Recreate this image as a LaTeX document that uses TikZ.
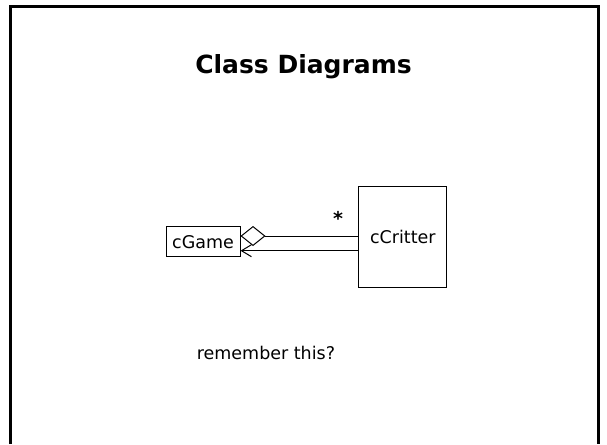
\documentclass[tikz,border=0pt]{standalone}
\usepackage{fontspec}
\setmainfont{DejaVu Sans}
\usetikzlibrary{arrows.meta,calc}
\tikzset{
  frame/.style={line width=3pt, line cap=butt},
  label text/.style={font=\fontsize{17.5}{21}\selectfont},
  classbox/.style={draw, line width=1pt, inner sep=0pt, label text},
  assoc/.style={line width=1pt},
  aggr/.style={assoc, -{Diamond[open,length=25pt,width=20pt,line width=1pt]}},
  navig/.style={assoc, -{Straight Barb[length=10pt,width=12pt,line width=1pt]}},
}
\begin{document}
\begin{tikzpicture}[x=1pt,y=-1pt]
  \useasboundingbox (0,0) rectangle (607,444);
  % slide frame, open at the bottom
  \draw[frame] (10.5,444) -- (10.5,6.5) -- (598.5,6.5) -- (598.5,444);
  % title
  \node[font=\fontsize{25}{30}\selectfont\bfseries, anchor=base] (title) at (303.5,73.3) {Class Diagrams};
  % classes
  \node[classbox, minimum width=74pt, minimum height=30pt] (game) at (203,241.7) {cGame};
  \node[classbox, minimum width=87.7pt, minimum height=101pt] (critter) at (402.8,237.2) {cCritter};
  % associations
  \coordinate (aggEnd) at ([yshift=5.7pt]game.east);
  \coordinate (navEnd) at ([yshift=-9pt]game.east);
  \draw[aggr] (critter.west |- aggEnd) -- (aggEnd);
  \draw[navig] (critter.west |- navEnd) -- (navEnd);
  \node[label text, font=\fontsize{19}{21}\bfseries] (mult) at (338,218) {*};
  % caption
  \node[label text, anchor=base west] (note) at (193.3,359) {remember this?};
\end{tikzpicture}
\end{document}
